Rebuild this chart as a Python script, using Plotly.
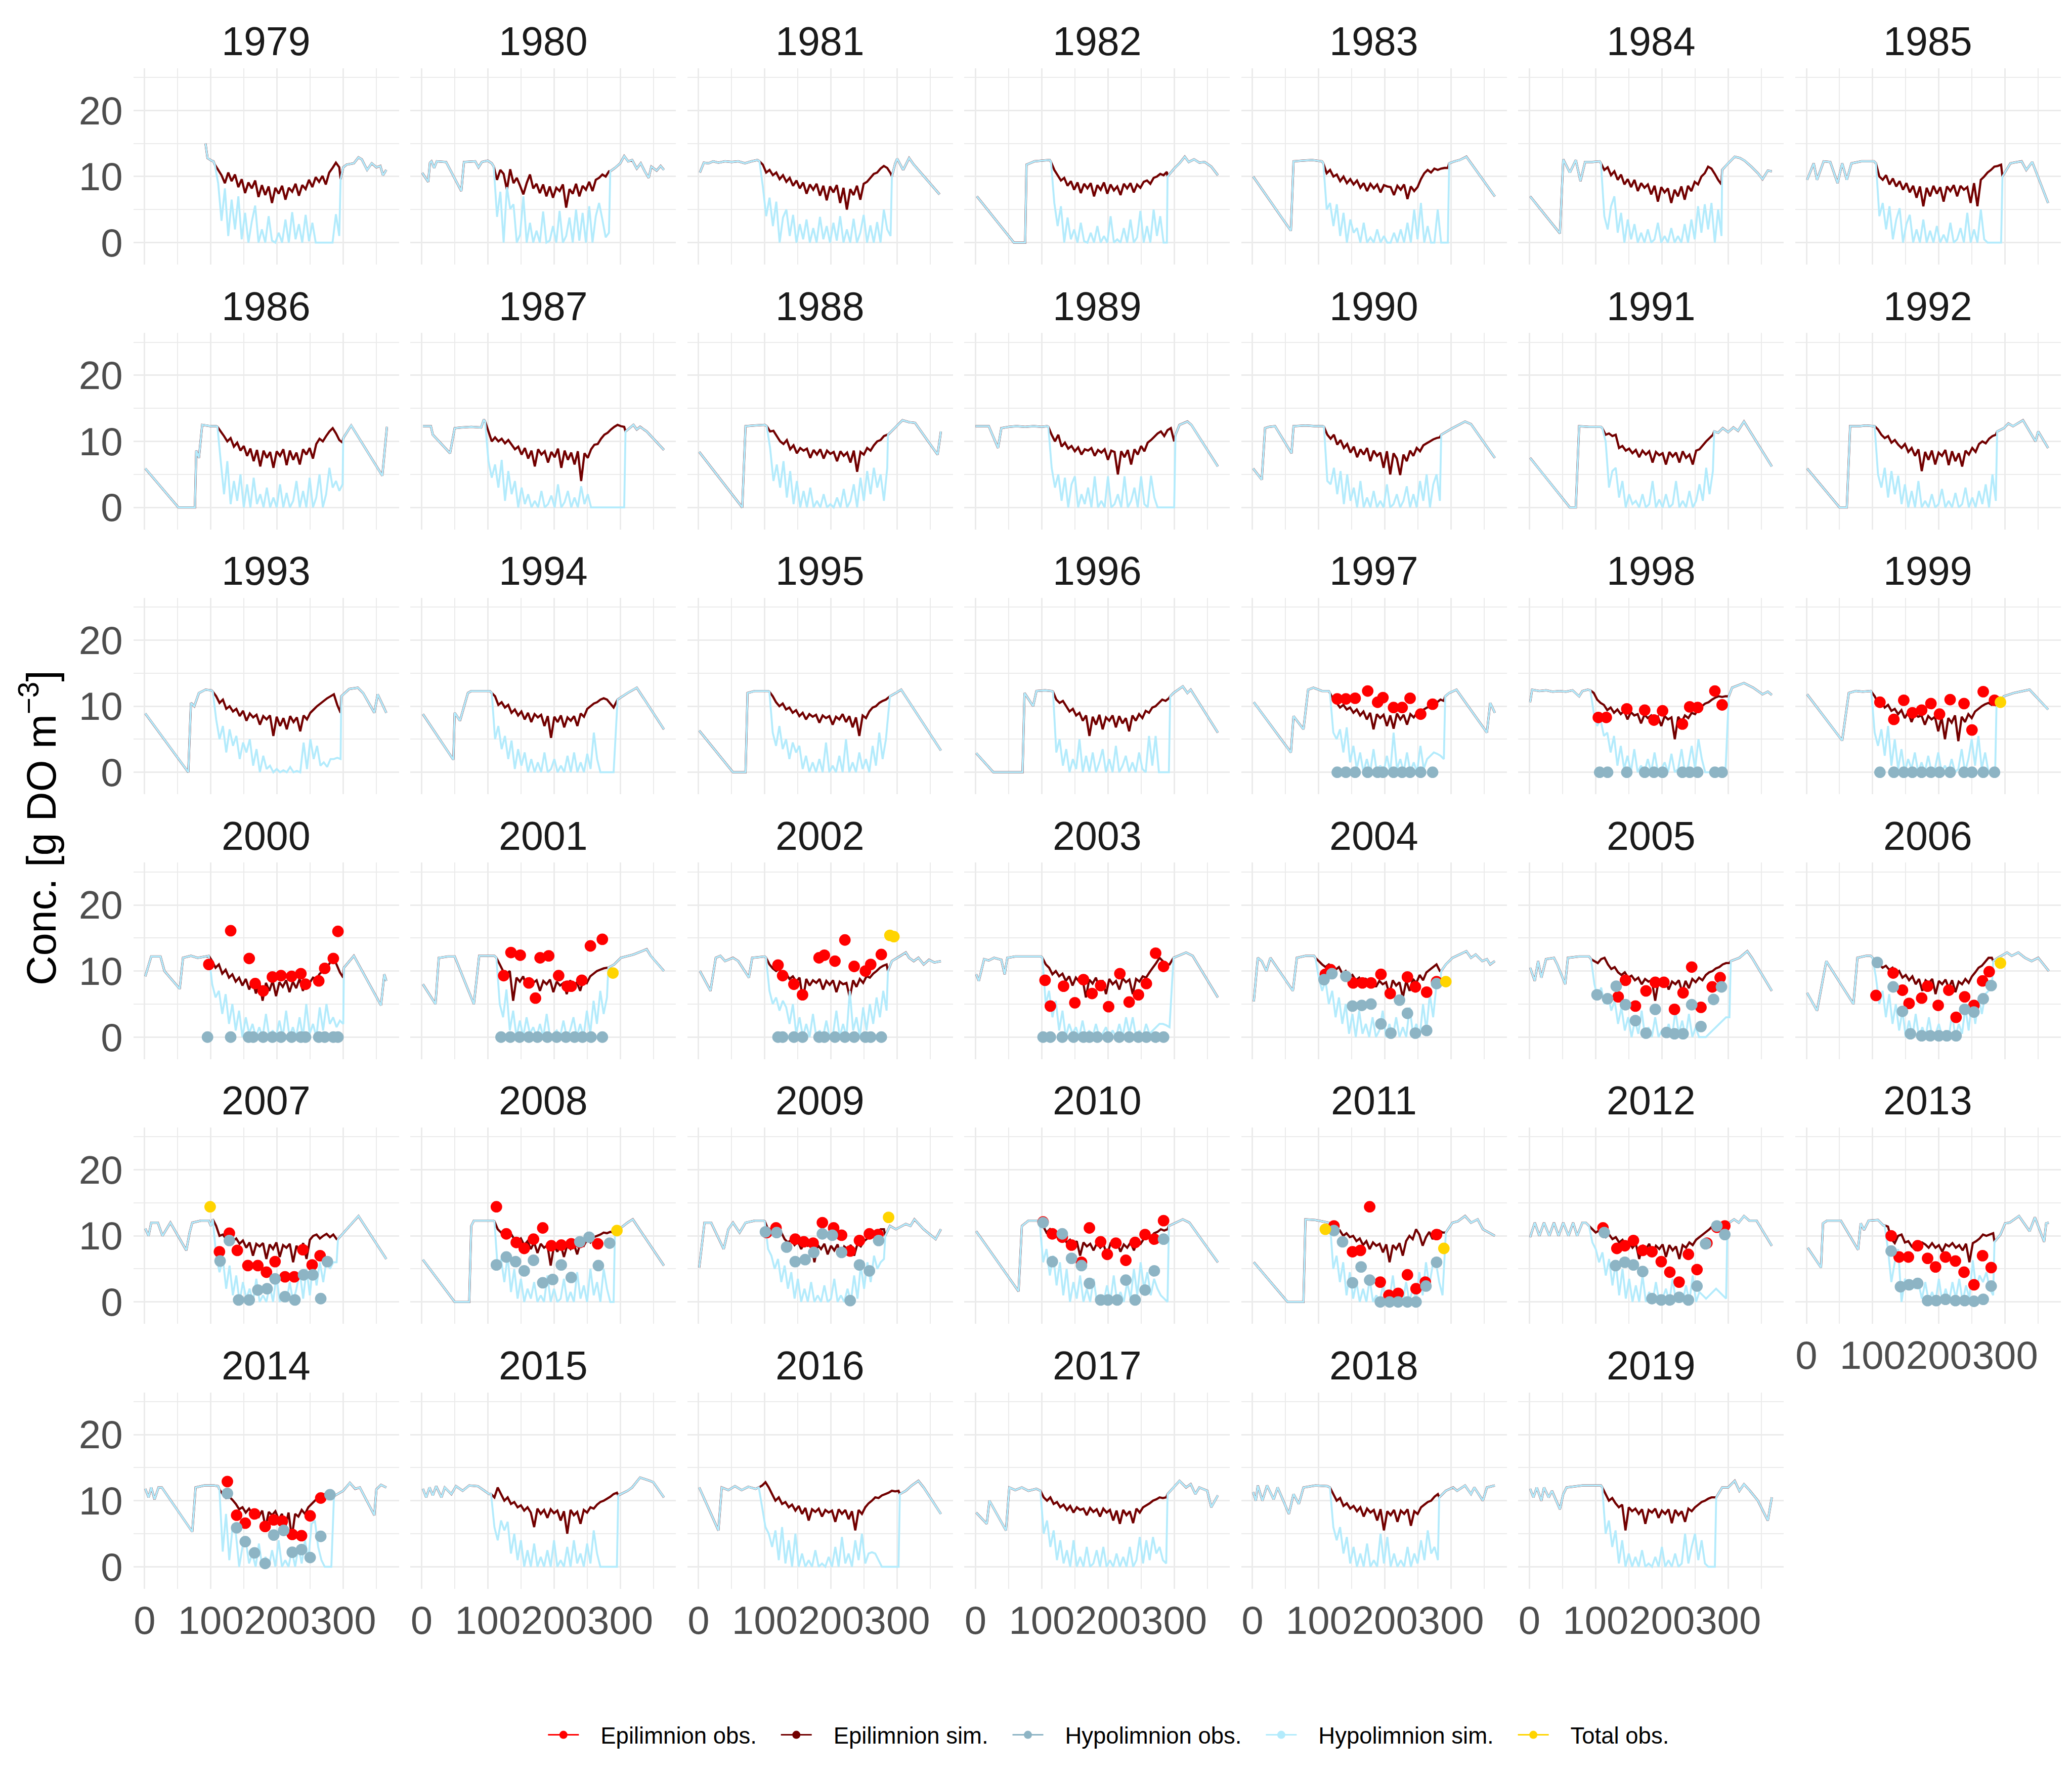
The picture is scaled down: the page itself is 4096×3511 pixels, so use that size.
import plotly.graph_objects as go

YEARS = list(range(1979, 2020))

# ---------------- simulated concentrations ----------------
# mixed-period knots (day of year, conc) shared by both layers, before stratification
PRE = {
    1979: [(92, 15.0), (95, 12.8), (101, 12.4), (104, 12.3)],
    1980: [(1, 10.55), (10, 9.2), (12.6, 12.07), (15, 12.3), (19, 11.3), (23, 12.3), (37, 12.2), (60, 7.8), (64, 12.2), (81, 12.3), (86, 11.4), (91, 12.2), (100, 12.4), (106, 12.0)],
    1981: [(2, 10.6), (8, 12.1), (15, 12.0), (22, 12.3), (30, 12.1), (40, 12.3), (50, 12.2), (60, 12.3), (70, 12.0), (80, 12.3), (89, 12.5)],
    1982: [(2, 7.0), (58, 0.0), (75, 0.0), (77, 11.8), (89, 12.3), (100, 12.4), (112, 12.5)],
    1983: [(1, 10.0), (58, 1.8), (62, 12.3), (75, 12.4), (90, 12.5), (105, 12.3)],
    1984: [(1, 7.0), (46, 1.4), (51, 12.6), (61, 10.6), (70, 12.5), (77, 9.3), (84, 12.2), (95, 12.2), (106, 12.3)],
    1985: [(1, 9.5), (11, 12.0), (16, 9.5), (26, 12.3), (36, 12.2), (47, 9.0), (54, 12.0), (61, 9.5), (68, 12.0), (83, 12.3), (102, 12.3)],
    1986: [(1, 5.9), (51, 0.0), (76, 0.0), (78, 8.6), (82, 7.5), (87, 12.5), (100, 12.3), (108, 12.3)],
    1987: [(2, 12.3), (14, 12.3), (17, 11.0), (43, 8.2), (50, 12.0), (60, 12.1), (75, 12.2), (90, 12.1), (94, 13.3)],
    1988: [(1, 8.4), (66, 0.0), (71, 12.3), (85, 12.4), (100, 12.5)],
    1989: [(0, 12.3), (20, 12.3), (34, 9.0), (39, 12.0), (50, 12.2), (62, 12.3), (75, 12.2), (88, 12.3), (100, 12.2), (108, 12.3)],
    1990: [(1, 5.9), (14, 4.2), (19, 12.0), (25, 12.2), (34, 12.3), (59, 8.2), (62, 12.3), (80, 12.4), (95, 12.3), (106, 12.3)],
    1991: [(1, 7.5), (61, 0.0), (70, 0.0), (75, 12.3), (90, 12.2), (108, 12.2)],
    1992: [(1, 5.9), (50, 0.0), (61, 0.0), (66, 12.3), (80, 12.3), (90, 12.4), (102, 12.3)],
    1993: [(1, 8.9), (66, 0.0), (70, 10.5), (75, 10.0), (82, 12.0), (92, 12.5), (101, 12.4)],
    1994: [(2, 8.8), (48, 1.9), (50, 9.0), (58, 7.8), (70, 12.0), (75, 12.3), (90, 12.3), (103, 12.3)],
    1995: [(1, 6.3), (52, 0.0), (71, 0.0), (74, 12.0), (85, 12.3), (105, 12.3)],
    1996: [(1, 2.9), (27, 0.0), (71, 0.0), (74, 12.0), (87, 10.0), (92, 12.3), (105, 12.4), (115, 12.3)],
    1997: [(2, 10.6), (58, 3.0), (62, 8.5), (77, 6.5), (84, 12.5), (92, 12.8), (105, 12.3), (115, 12.3)],
    1998: [(1, 10.6), (4, 12.5), (15, 12.3), (25, 12.4), (35, 12.2), (45, 12.3), (55, 12.2), (65, 12.4), (75, 11.5), (80, 12.3), (88, 12.5)],
    1999: [(1, 11.8), (54, 4.8), (64, 12.0), (75, 12.3), (85, 12.2), (97, 12.3)],
    2000: [(1, 9.2), (10, 12.2), (24, 12.2), (30, 10.0), (53, 7.3), (58, 12.0), (70, 12.3), (80, 12.0), (92, 12.2)],
    2001: [(2, 8.0), (21, 5.0), (26, 12.0), (40, 12.2), (50, 12.2), (79, 5.0), (87, 12.3), (100, 12.3), (110, 12.3)],
    2002: [(2, 10.0), (18, 7.0), (26, 12.0), (33, 12.3), (40, 11.5), (52, 12.0), (60, 11.5), (76, 9.0), (81, 12.0), (100, 12.2)],
    2003: [(1, 9.5), (5, 8.5), (13, 11.8), (20, 11.6), (28, 12.0), (39, 11.7), (44, 9.5), (48, 12.0), (60, 12.2), (80, 12.2), (99, 12.2)],
    2004: [(2, 5.4), (8, 12.0), (14, 11.5), (21, 10.0), (27, 12.0), (61, 7.0), (67, 12.0), (80, 12.3), (93, 12.3)],
    2005: [(1, 10.5), (8, 8.5), (13, 11.5), (18, 9.0), (25, 11.8), (37, 12.0), (42, 11.0), (54, 8.0), (58, 12.0), (75, 12.2), (90, 12.2)],
    2006: [(1, 6.7), (16, 4.0), (30, 11.5), (71, 5.0), (77, 12.0), (90, 12.3), (97, 12.3)],
    2007: [(1, 11.1), (6, 10.0), (10, 12.0), (20, 12.0), (27, 10.0), (39, 12.0), (63, 7.8), (68, 10.5), (72, 12.0), (85, 12.3), (97, 12.3), (100, 11.5)],
    2008: [(2, 6.4), (50, 0.0), (72, 0.0), (75, 11.5), (79, 12.3), (95, 12.3), (108, 12.3)],
    2009: [(1, 5.2), (9, 12.0), (19, 12.0), (38, 8.0), (45, 11.0), (52, 12.0), (62, 10.5), (71, 12.0), (85, 12.3), (98, 12.3)],
    2010: [(1, 10.7), (65, 1.6), (70, 11.5), (80, 12.3), (95, 12.3)],
    2011: [(2, 6.0), (53, 0.0), (77, 0.0), (80, 12.5), (95, 12.4), (105, 12.2), (115, 12.0)],
    2012: [(1, 9.8), (8, 12.0), (15, 10.0), (22, 12.0), (30, 10.0), (37, 12.0), (44, 10.0), (51, 12.0), (59, 10.0), (66, 12.0), (72, 10.0), (80, 12.0), (85, 12.0)],
    2013: [(2, 8.2), (22, 5.2), (25, 11.9), (31, 12.3), (52, 12.3), (78, 7.9), (82, 11.9), (87, 10.9), (94, 12.3), (108, 12.4), (116, 11.6)],
    2014: [(1, 11.8), (6, 10.5), (10, 12.0), (15, 10.2), (21, 12.0), (26, 12.0), (72, 5.3), (77, 12.0), (90, 12.3), (105, 12.3), (111, 12.2)],
    2015: [(2, 11.8), (7, 10.5), (12, 12.0), (17, 10.8), (22, 12.2), (30, 10.5), (35, 12.0), (45, 11.0), (52, 12.2), (62, 11.5), (72, 12.3), (85, 12.2), (95, 11.5), (102, 11.0)],
    2016: [(1, 12.0), (30, 5.5), (35, 12.0), (45, 11.6), (55, 12.2), (65, 11.6), (75, 12.1), (86, 11.8)],
    2017: [(1, 8.2), (17, 6.5), (21, 10.0), (46, 5.5), (51, 12.0), (60, 11.6), (70, 12.0), (80, 11.5), (92, 11.8)],
    2018: [(1, 11.3), (5, 10.0), (8, 12.3), (15, 10.0), (22, 12.3), (32, 10.2), (38, 12.0), (55, 8.0), (62, 11.0), (70, 9.5), (77, 12.0), (95, 12.3), (113, 12.2)],
    2019: [(1, 11.8), (6, 10.5), (11, 12.0), (18, 10.0), (22, 12.0), (29, 10.5), (34, 11.5), (46, 8.7), (51, 11.0), (56, 12.0), (80, 12.3), (108, 12.3)],
}

# stratified season: first and last day; summer values are evenly spaced over it
SEASON = {
    1979: (106, 294), 1980: (109, 283), 1981: (92, 290), 1982: (114, 289), 1983: (107, 295),
    1984: (108, 290), 1985: (105, 294), 1986: (110, 299), 1987: (96, 306), 1988: (103, 285),
    1989: (110, 300), 1990: (108, 283), 1991: (110, 277), 1992: (103, 286), 1993: (103, 296),
    1994: (106, 290), 1995: (107, 283), 1996: (117, 292), 1997: (117, 289), 1998: (92, 296),
    1999: (98, 285), 2000: (97, 300), 2001: (113, 280), 2002: (102, 284), 2003: (101, 293),
    2004: (95, 283), 2005: (93, 302), 2006: (100, 280), 2007: (103, 290), 2008: (110, 290),
    2009: (100, 280), 2010: (97, 290), 2011: (117, 287), 2012: (90, 297), 2013: (118, 282),
    2014: (113, 282), 2015: (105, 295), 2016: (91, 302), 2017: (98, 288), 2018: (117, 280),
    2019: (110, 280),
}

EPI_SIM = {
    1979: [11.8, 11.0, 10.2, 9.0, 10.6, 9.3, 10.3, 8.4, 9.6, 7.5, 9.1, 8.2, 9.4, 6.9, 8.7, 7.2, 8.5, 6.0, 8.3, 7.4, 8.6, 6.5, 8.3, 7.7, 8.9, 7.1, 8.7, 8.1, 9.5, 8.4, 9.9, 9.2, 10.1, 8.8, 10.6, 11.3, 12.1, 11.4],
    1980: [11.5, 9.5, 11.0, 10.4, 8.0, 11.1, 9.0, 9.8, 8.6, 7.3, 9.0, 10.3, 8.2, 8.9, 7.5, 8.8, 7.0, 8.5, 6.8, 8.3, 7.8, 8.8, 5.3, 8.1, 7.4, 8.9, 7.0, 8.6, 8.0, 9.2, 7.8, 9.5, 9.8, 10.3, 10.0, 10.8],
    1981: [12.3, 11.8, 10.6, 11.0, 10.2, 10.6, 9.6, 10.2, 9.2, 9.8, 8.6, 9.4, 8.2, 9.1, 7.4, 8.8, 8.0, 8.9, 7.1, 8.6, 6.4, 8.5, 7.6, 8.7, 6.0, 8.3, 5.0, 8.1, 7.2, 8.6, 6.5, 8.9, 9.2, 9.8, 10.4, 10.6, 11.2, 11.6, 11.3, 10.5],
    1982: [12.2, 11.0, 10.2, 9.4, 9.8, 8.6, 9.3, 8.0, 9.1, 7.5, 8.9, 8.2, 9.0, 7.0, 8.7, 8.0, 9.1, 7.4, 8.8, 7.9, 8.5, 7.2, 8.9, 8.2, 9.0, 7.6, 8.8, 8.3, 9.2, 9.4, 8.9, 9.8, 10.0, 10.4, 10.2, 10.7],
    1983: [12.0, 10.5, 11.0, 10.0, 10.3, 9.3, 10.0, 9.0, 9.6, 8.8, 9.4, 8.3, 9.0, 7.8, 8.9, 8.2, 8.8, 7.6, 8.7, 8.5, 8.4, 7.2, 8.6, 8.0, 8.8, 6.6, 8.5, 7.8, 8.4, 9.6, 10.5, 11.0, 10.6, 11.2, 11.0, 11.2, 11.3, 11.3],
    1984: [12.0, 11.0, 11.4, 10.2, 10.8, 9.5, 10.3, 8.8, 9.6, 8.4, 9.5, 7.8, 9.0, 8.3, 8.8, 7.3, 8.6, 6.2, 8.4, 7.6, 8.2, 6.0, 8.0, 7.0, 8.5, 6.5, 8.6, 7.8, 9.2, 8.8, 10.0, 10.5, 11.5, 11.2, 10.4, 9.5, 8.8],
    1985: [12.0, 10.0, 9.5, 10.2, 8.8, 9.7, 8.5, 9.3, 8.0, 9.0, 7.6, 8.6, 6.8, 8.5, 5.5, 8.3, 7.0, 8.6, 7.4, 8.4, 6.2, 8.5, 7.8, 8.7, 7.0, 8.6, 8.0, 8.4, 6.0, 9.0, 5.5, 9.5, 10.0, 10.6, 11.0, 11.5, 11.6, 11.8],
    1986: [12.2, 11.5, 10.8, 10.0, 10.5, 9.2, 9.8, 8.6, 9.3, 7.8, 8.9, 7.0, 8.7, 6.2, 8.6, 7.5, 8.4, 6.0, 8.5, 7.8, 8.8, 6.4, 8.6, 7.2, 8.3, 6.5, 8.8, 8.0, 9.0, 7.4, 9.6, 10.4, 10.0, 10.8, 11.5, 12.0, 11.2, 10.2, 9.8],
    1987: [13.0, 11.5, 10.0, 10.6, 10.0, 10.4, 9.7, 10.2, 9.5, 8.8, 9.2, 8.0, 9.0, 7.4, 8.6, 6.2, 8.8, 8.0, 8.5, 6.8, 8.4, 7.6, 8.9, 6.0, 8.6, 7.2, 8.3, 6.5, 8.5, 4.0, 8.2, 7.5, 8.8, 9.5, 9.6, 10.4, 11.0, 11.3, 11.8, 12.2, 12.5, 12.3, 12.2],
    1988: [12.3, 11.5, 11.6, 10.8, 10.0, 9.6, 10.2, 8.8, 9.4, 8.2, 9.0, 8.6, 8.9, 7.5, 8.7, 8.0, 8.8, 7.4, 8.6, 8.1, 8.4, 7.0, 8.5, 7.8, 8.3, 6.8, 8.6, 5.4, 8.4, 8.0, 9.0, 8.6, 9.4, 10.0, 10.2, 10.8, 11.0],
    1989: [12.2, 11.0, 10.0, 11.0, 9.2, 9.8, 8.9, 9.3, 8.5, 9.1, 8.0, 8.8, 8.6, 9.0, 7.8, 8.7, 8.3, 8.8, 7.2, 8.6, 8.4, 5.0, 8.5, 7.6, 8.7, 6.5, 8.8, 8.0, 9.3, 8.5, 9.8, 10.2, 10.7, 11.2, 11.5, 10.8, 11.7, 12.0, 10.0],
    1990: [12.2, 11.0, 10.4, 11.0, 9.5, 10.2, 9.0, 9.6, 8.3, 9.2, 7.6, 8.8, 8.0, 9.0, 7.0, 8.6, 7.8, 8.3, 6.0, 8.5, 5.0, 8.2, 7.4, 4.9, 8.0, 7.0, 8.6, 7.8, 9.0, 8.5, 9.4, 9.7, 10.0, 10.3, 10.5, 10.6],
    1991: [12.0, 11.0, 11.2, 10.8, 11.0, 9.0, 9.3, 8.6, 8.9, 8.2, 8.7, 7.6, 8.6, 8.0, 8.5, 6.8, 8.4, 7.9, 8.2, 6.5, 8.4, 7.7, 8.3, 6.8, 8.5, 7.5, 8.0, 6.5, 8.6, 8.8, 9.4, 10.0, 10.5, 11.0],
    1992: [12.3, 11.8, 11.0, 10.5, 10.8, 9.8, 10.2, 9.5, 9.0, 9.6, 8.4, 9.0, 7.8, 8.8, 5.5, 8.4, 7.2, 8.6, 6.5, 8.3, 7.8, 8.7, 6.4, 8.5, 7.0, 8.2, 6.2, 8.6, 8.0, 9.0, 8.4, 9.6, 10.0, 9.7, 10.4, 10.8, 11.0],
    1993: [12.2, 11.5, 10.5, 11.0, 9.6, 10.0, 9.2, 9.6, 8.5, 9.3, 7.8, 8.9, 8.3, 8.7, 7.2, 8.5, 8.0, 8.6, 5.5, 8.4, 7.0, 8.2, 6.5, 8.5, 7.6, 8.3, 6.2, 8.6, 8.0, 9.0, 9.5, 10.0, 10.4, 10.8, 11.2, 11.5, 11.8, 10.2, 9.0],
    1994: [12.0, 11.5, 10.2, 10.6, 9.8, 10.2, 9.0, 9.5, 8.6, 9.2, 8.0, 9.0, 7.6, 8.8, 8.3, 8.7, 7.0, 8.5, 5.2, 8.4, 7.6, 8.6, 6.8, 8.3, 7.8, 8.5, 7.0, 8.9, 8.4, 9.6, 10.0, 10.4, 10.6, 11.0, 11.2, 11.0, 10.4, 9.8],
    1995: [12.2, 11.5, 10.6, 10.0, 10.4, 9.5, 9.8, 9.0, 9.4, 8.5, 9.0, 8.0, 8.8, 8.4, 8.7, 7.5, 8.6, 8.2, 8.5, 7.2, 8.4, 8.0, 8.8, 7.6, 8.5, 6.8, 8.3, 5.5, 8.6, 8.2, 9.2, 9.8, 10.0, 10.5, 10.8, 11.0],
    1996: [12.2, 11.0, 10.5, 10.8, 10.0, 9.2, 9.6, 8.6, 9.0, 7.8, 8.6, 5.5, 8.4, 7.2, 8.7, 6.5, 8.3, 7.8, 8.6, 6.8, 8.5, 7.4, 8.2, 6.2, 8.6, 7.8, 8.8, 8.2, 9.3, 9.0, 9.8, 10.0, 10.5, 11.0, 10.8, 11.2],
    1997: [12.0, 11.0, 10.5, 9.8, 10.2, 9.5, 9.8, 9.0, 9.5, 8.6, 9.2, 8.0, 9.0, 6.5, 8.8, 8.2, 8.7, 7.0, 8.6, 6.6, 8.9, 8.0, 8.7, 7.2, 8.8, 8.3, 9.0, 8.6, 9.5, 9.8, 10.0, 10.3, 10.6, 11.0, 10.8],
    1998: [12.4, 12.0, 11.0, 10.5, 10.2, 9.4, 9.8, 9.0, 9.5, 8.8, 9.3, 8.0, 9.1, 8.6, 8.8, 7.4, 8.7, 8.2, 8.6, 7.8, 8.4, 7.0, 8.5, 8.0, 8.3, 5.0, 8.4, 7.6, 8.6, 8.2, 9.0, 8.8, 9.6, 10.0, 10.4, 10.6, 11.0, 11.3, 11.5, 11.4, 11.5],
    1999: [12.2, 11.5, 10.5, 10.8, 9.8, 10.2, 9.3, 9.6, 8.8, 9.4, 8.2, 9.1, 7.6, 8.8, 8.4, 8.6, 7.2, 8.5, 8.0, 8.4, 6.2, 8.3, 5.0, 8.2, 7.5, 8.6, 4.7, 8.4, 7.6, 8.8, 8.2, 9.2, 9.6, 10.0, 10.3, 10.5, 10.2, 10.5],
    2000: [12.3, 11.5, 10.5, 11.0, 9.6, 10.2, 9.0, 9.5, 8.4, 9.0, 7.8, 8.8, 7.2, 8.6, 6.6, 8.4, 5.5, 8.2, 7.0, 8.5, 6.2, 8.3, 7.6, 8.6, 6.8, 8.4, 7.4, 8.8, 7.0, 8.6, 8.2, 9.0, 8.8, 9.6, 10.0, 10.5, 11.2, 12.0, 11.0, 9.8, 9.0],
    2001: [12.0, 11.0, 10.0, 9.5, 10.0, 5.5, 9.0, 8.4, 9.2, 7.6, 8.8, 8.2, 8.6, 7.0, 8.5, 8.0, 8.7, 6.8, 8.4, 7.8, 8.2, 6.5, 8.6, 7.6, 8.3, 7.0, 8.8, 8.2, 9.2, 9.6, 10.0, 10.2, 10.4, 10.5],
    2002: [12.0, 11.0, 10.4, 10.0, 10.3, 9.2, 9.6, 8.8, 9.2, 8.4, 9.0, 5.6, 8.8, 7.8, 8.6, 8.2, 8.8, 7.2, 8.5, 7.9, 8.6, 6.8, 8.4, 8.0, 8.2, 6.0, 8.6, 7.6, 8.8, 8.2, 9.2, 9.0, 9.6, 10.0, 10.5, 10.8, 11.0],
    2003: [12.0, 11.0, 10.5, 9.5, 10.0, 9.2, 9.6, 8.5, 9.2, 7.8, 9.0, 8.4, 8.8, 6.0, 8.7, 8.1, 9.0, 7.4, 8.6, 6.5, 8.8, 8.0, 8.5, 7.2, 8.9, 8.3, 8.7, 6.5, 8.8, 8.4, 9.2, 9.0, 9.8, 10.5, 11.2, 12.0, 11.5, 11.0, 11.0],
    2004: [12.0, 11.5, 11.0, 10.6, 11.0, 10.5, 10.2, 10.6, 9.6, 10.0, 9.0, 9.4, 8.6, 9.0, 8.0, 8.8, 8.4, 8.6, 7.6, 8.5, 8.0, 8.3, 6.5, 8.6, 7.8, 8.3, 6.0, 8.5, 7.0, 8.8, 8.2, 9.4, 8.6, 9.8, 10.2, 10.6, 11.0, 10.0],
    2005: [11.8, 11.5, 11.2, 11.8, 12.0, 11.0, 10.3, 10.6, 9.8, 9.4, 9.8, 9.0, 9.3, 8.6, 9.0, 8.0, 8.8, 8.4, 8.6, 5.5, 8.5, 7.8, 8.7, 7.2, 8.4, 8.0, 8.6, 6.8, 8.5, 7.4, 8.8, 8.3, 9.0, 8.6, 9.4, 9.8, 10.0, 10.4, 10.6, 11.0, 11.2, 11.2],
    2006: [12.0, 11.5, 11.0, 10.5, 10.8, 10.2, 10.5, 9.6, 10.0, 9.0, 9.4, 8.6, 9.2, 8.0, 8.8, 7.0, 8.6, 8.2, 8.8, 6.5, 8.5, 8.0, 8.7, 7.4, 8.6, 6.8, 8.4, 8.0, 8.8, 8.2, 9.2, 9.8, 10.5, 10.8, 11.4, 12.0, 12.0],
    2007: [12.5, 11.5, 10.0, 10.2, 9.5, 9.8, 9.2, 9.6, 8.8, 9.3, 8.2, 9.0, 7.0, 8.8, 8.4, 8.9, 6.5, 8.7, 8.0, 9.0, 6.8, 8.6, 8.2, 8.8, 6.0, 8.5, 7.6, 8.9, 6.5, 9.4, 10.0, 10.2, 9.6, 10.0, 10.3, 9.8, 10.2, 9.5],
    2008: [12.2, 11.0, 10.5, 10.8, 10.0, 10.3, 9.5, 9.0, 9.6, 8.6, 9.2, 8.0, 9.0, 7.4, 8.8, 8.2, 8.6, 5.5, 8.5, 7.6, 8.7, 6.8, 8.6, 8.0, 8.8, 7.2, 9.0, 8.5, 9.4, 9.0, 9.8, 10.0, 10.2, 10.5, 10.4, 10.6, 10.5],
    2009: [12.2, 11.0, 10.5, 10.8, 10.2, 10.5, 9.5, 9.0, 9.4, 8.6, 9.2, 8.0, 9.0, 8.5, 8.8, 6.0, 8.6, 8.0, 8.8, 7.2, 8.5, 7.8, 8.7, 6.8, 8.4, 8.0, 8.6, 7.0, 8.8, 8.4, 9.2, 9.6, 10.0, 10.2, 10.6, 11.0, 11.0],
    2010: [12.0, 11.5, 10.5, 11.0, 10.0, 10.4, 9.5, 9.8, 9.0, 9.4, 8.6, 9.2, 7.0, 9.0, 8.4, 8.8, 7.8, 8.9, 8.2, 8.7, 7.0, 8.8, 8.4, 9.0, 7.6, 8.7, 8.2, 9.0, 7.8, 9.2, 8.8, 9.6, 10.0, 9.8, 10.4, 10.6, 11.0, 10.8, 11.0],
    2011: [12.0, 11.0, 10.5, 10.8, 10.0, 10.4, 9.8, 10.0, 9.2, 9.6, 8.6, 9.2, 8.0, 9.0, 8.5, 8.8, 7.5, 8.7, 6.0, 8.6, 8.0, 8.9, 7.0, 9.2, 10.0, 9.5, 11.0, 10.2, 8.5, 9.8, 10.6, 9.5, 10.4, 10.8, 10.5],
    2012: [11.5, 11.0, 10.5, 10.8, 10.4, 9.8, 10.2, 9.5, 9.8, 9.0, 9.4, 8.5, 9.0, 8.2, 8.8, 6.5, 8.6, 8.0, 8.8, 7.2, 8.5, 8.0, 8.7, 6.8, 8.6, 7.8, 8.4, 6.5, 8.6, 8.2, 9.0, 8.6, 9.4, 9.8, 10.2, 10.6, 11.0, 11.5, 12.0, 11.8, 11.5, 11.6],
    2013: [11.6, 11.4, 9.5, 8.9, 10.0, 10.2, 9.0, 9.2, 8.4, 7.9, 8.8, 9.0, 8.7, 8.2, 8.9, 8.2, 8.6, 7.6, 8.7, 8.4, 8.9, 8.2, 8.6, 7.8, 8.8, 6.0, 8.9, 9.2, 9.6, 10.2, 10.0, 10.2, 10.4],
    2014: [11.7, 11.0, 10.4, 10.6, 10.1, 9.5, 8.7, 9.0, 8.2, 8.8, 8.0, 8.4, 7.6, 8.5, 6.0, 8.3, 7.8, 8.4, 7.2, 8.0, 6.0, 8.2, 4.5, 8.0, 7.6, 8.6, 8.0, 9.0, 9.5, 10.0, 10.4, 10.8, 11.0, 11.2, 11.0],
    2015: [11.0, 10.5, 12.0, 11.0, 10.0, 10.5, 9.5, 9.8, 9.0, 9.3, 8.5, 9.0, 8.2, 6.0, 8.8, 8.0, 8.6, 7.4, 8.7, 8.1, 8.5, 7.0, 8.4, 5.0, 8.6, 7.8, 8.3, 6.5, 8.6, 8.2, 9.0, 8.8, 9.4, 9.8, 10.0, 10.3, 10.6, 11.0, 11.2],
    2016: [12.0, 12.3, 12.8, 12.0, 11.0, 10.0, 10.5, 9.5, 9.8, 9.0, 9.4, 8.5, 9.2, 8.0, 8.9, 7.0, 8.7, 8.3, 8.8, 7.6, 8.6, 8.2, 8.5, 6.8, 8.7, 8.0, 8.6, 7.2, 8.4, 5.5, 8.6, 8.0, 9.0, 9.6, 10.0, 10.5, 10.4, 10.8, 11.0, 11.2, 11.5, 11.4, 11.5],
    2017: [11.5, 10.5, 10.0, 10.5, 9.5, 9.8, 9.0, 9.4, 8.6, 9.2, 8.2, 9.0, 8.6, 8.8, 7.8, 8.9, 8.3, 8.7, 7.6, 8.8, 8.2, 8.6, 7.0, 8.5, 6.5, 8.6, 7.8, 8.4, 6.6, 8.8, 8.2, 9.0, 9.3, 9.6, 10.0, 10.2, 10.5, 10.4, 10.5],
    2018: [12.0, 11.0, 10.0, 10.4, 9.2, 9.6, 8.8, 9.2, 8.4, 9.0, 7.6, 8.8, 8.2, 8.6, 7.0, 8.7, 5.5, 8.4, 7.8, 8.6, 6.8, 8.5, 8.0, 8.7, 6.2, 8.4, 8.0, 9.0, 9.4, 9.8, 10.0, 10.6, 11.0],
    2019: [12.0, 11.0, 10.0, 10.4, 9.6, 9.0, 9.4, 5.5, 9.0, 8.4, 8.8, 8.0, 8.7, 6.5, 8.6, 8.2, 8.8, 7.4, 8.5, 8.0, 8.7, 6.6, 8.6, 7.8, 8.4, 6.8, 8.8, 8.4, 9.0, 9.4, 9.8, 10.0, 10.3, 10.5, 10.5],
}

HYPO_SIM = {
    1979: [11.8, 9.0, 3.3, 8.2, 1.0, 6.5, 2.0, 7.0, 0.5, 4.5, 0.0, 3.2, 5.6, 0.0, 2.0, 0.0, 4.0, 0.3, 0.0, 1.5, 0.0, 3.5, 0.0, 4.6, 0.5, 2.8, 0.0, 4.2, 0.2, 3.0, 0.0, 0.0, 0.0, 0.0, 0.0, 0.0, 4.3, 1.0],
    1980: [11.5, 3.9, 7.7, 0.0, 8.4, 5.1, 5.8, 0.0, 1.2, 7.0, 0.0, 3.0, 0.0, 1.8, 0.0, 4.7, 0.0, 0.3, 2.5, 0.0, 4.8, 0.0, 1.0, 3.8, 0.0, 5.0, 0.3, 4.5, 0.0, 5.5, 0.0, 4.0, 6.0, 3.5, 0.8, 1.5],
    1981: [12.3, 8.5, 4.0, 6.8, 2.5, 6.2, 0.0, 3.8, 5.0, 1.0, 4.2, 0.0, 2.8, 0.5, 3.5, 0.0, 2.2, 0.0, 3.9, 0.5, 2.5, 0.0, 3.0, 0.3, 4.0, 0.0, 2.0, 0.0, 3.6, 0.0, 1.5, 4.2, 0.0, 2.6, 0.0, 3.1, 0.0, 5.0, 2.0, 1.0],
    1982: [12.2, 6.0, 2.5, 5.5, 0.0, 3.8, 0.5, 2.0, 0.0, 3.0, 0.2, 0.0, 1.5, 0.0, 2.5, 0.0, 1.0, 0.0, 4.0, 0.0, 0.5, 0.0, 2.2, 0.0, 3.5, 0.0, 0.8, 4.8, 0.0, 2.5, 0.0, 5.0, 1.0, 4.0, 0.0, 0.0],
    1983: [12.0, 5.0, 6.0, 2.5, 5.8, 1.0, 4.5, 0.0, 3.5, 1.5, 2.2, 0.0, 3.0, 0.0, 0.8, 0.0, 2.0, 0.0, 1.0, 0.0, 0.0, 1.5, 0.0, 2.0, 0.0, 3.0, 0.0, 5.0, 0.5, 6.0, 0.0, 2.5, 0.0, 0.0, 5.0, 0.0, 0.0, 0.0],
    1984: [12.0, 4.0, 2.0, 5.5, 7.0, 1.5, 4.5, 0.0, 3.5, 0.5, 2.8, 0.0, 1.5, 0.0, 2.0, 0.0, 0.5, 3.0, 0.0, 1.0, 0.0, 2.2, 0.0, 1.0, 0.0, 2.8, 0.0, 3.5, 0.5, 5.5, 1.5, 5.8, 2.0, 6.0, 0.0, 5.0, 1.0],
    1985: [12.0, 4.0, 6.0, 2.0, 5.5, 0.5, 3.5, 5.2, 0.0, 2.8, 4.2, 0.0, 2.0, 0.0, 3.5, 0.0, 1.8, 0.0, 2.5, 0.0, 1.2, 0.0, 3.0, 0.0, 0.5, 2.2, 0.0, 4.5, 0.0, 2.0, 0.0, 5.0, 0.5, 0.0, 0.0, 0.0, 0.0, 0.0],
    1986: [12.2, 7.0, 2.0, 7.0, 0.5, 4.0, 1.0, 5.0, 0.0, 3.5, 0.0, 4.5, 0.5, 2.0, 0.0, 3.0, 0.0, 1.5, 0.0, 3.5, 0.0, 2.2, 0.0, 1.0, 4.0, 0.0, 2.5, 0.0, 4.5, 0.0, 1.5, 5.0, 0.0, 2.0, 6.0, 3.0, 4.0, 2.5, 3.5],
    1987: [13.0, 7.0, 4.5, 6.5, 3.0, 7.2, 1.0, 5.5, 2.0, 4.0, 0.0, 3.0, 0.5, 2.0, 0.0, 1.0, 0.0, 2.5, 0.0, 0.5, 1.8, 0.0, 3.5, 0.0, 0.8, 2.5, 0.0, 1.5, 0.0, 3.2, 0.5, 2.0, 0.0, 0.0, 0.0, 0.0, 0.0, 0.0, 0.0, 0.0, 0.0, 0.0, 0.0],
    1988: [12.3, 9.0, 4.0, 6.5, 3.0, 7.0, 1.5, 5.5, 0.5, 4.0, 0.0, 2.5, 0.0, 3.0, 0.0, 1.0, 0.0, 2.0, 0.0, 0.5, 0.0, 1.5, 0.0, 2.8, 0.0, 1.0, 3.5, 0.0, 4.5, 1.0, 5.5, 2.0, 6.0, 3.0, 5.0, 1.0, 6.0],
    1989: [12.2, 6.0, 3.0, 5.0, 1.0, 4.5, 0.0, 3.5, 4.7, 0.0, 2.0, 0.5, 3.0, 0.0, 4.7, 0.0, 1.0, 0.0, 4.7, 0.0, 0.5, 2.0, 0.0, 4.7, 0.0, 1.0, 3.0, 0.0, 4.7, 0.5, 0.0, 4.8, 1.5, 0.0, 0.0, 0.0, 0.0, 0.0, 0.0],
    1990: [12.2, 4.0, 3.5, 6.0, 2.0, 5.5, 0.5, 5.0, 1.0, 3.0, 0.0, 4.0, 0.0, 1.5, 0.0, 2.5, 0.0, 1.0, 0.0, 3.5, 0.0, 0.5, 2.0, 0.0, 1.0, 3.2, 0.0, 2.0, 0.0, 4.0, 1.0, 5.0, 0.0, 3.5, 5.0, 1.0],
    1991: [12.0, 10.0, 3.0, 5.5, 6.0, 1.5, 4.0, 0.0, 2.0, 0.5, 1.0, 0.0, 2.0, 0.0, 0.5, 4.0, 0.0, 1.2, 0.0, 2.0, 0.0, 0.5, 4.0, 0.0, 1.0, 0.0, 2.5, 0.0, 1.0, 3.5, 1.0, 6.0, 2.0, 5.5],
    1992: [12.3, 5.0, 3.0, 6.0, 1.5, 5.5, 2.0, 4.8, 0.5, 3.5, 0.0, 2.5, 0.0, 4.0, 0.0, 1.0, 0.0, 2.0, 0.0, 0.5, 2.8, 0.0, 1.0, 0.0, 2.2, 0.0, 0.5, 3.0, 0.0, 1.5, 0.0, 2.5, 0.5, 3.5, 0.0, 5.0, 1.0],
    1993: [12.2, 8.0, 5.0, 7.0, 3.0, 6.5, 4.0, 5.5, 2.0, 4.5, 3.0, 5.0, 1.0, 3.5, 0.0, 2.5, 0.5, 1.0, 0.0, 0.5, 0.0, 0.3, 0.0, 0.8, 0.0, 0.2, 0.0, 4.5, 0.5, 5.0, 2.0, 4.0, 1.0, 1.5, 0.8, 2.0, 2.0, 2.2, 2.0],
    1994: [12.0, 5.0, 7.0, 3.5, 5.5, 2.0, 4.8, 0.5, 3.5, 1.0, 3.0, 0.0, 2.0, 0.0, 1.5, 0.0, 3.0, 0.0, 0.5, 2.0, 0.0, 1.0, 0.0, 2.5, 0.0, 3.0, 0.0, 1.5, 0.0, 2.8, 0.5, 6.0, 2.0, 0.0, 0.0, 0.0, 0.0, 0.0],
    1995: [12.2, 6.0, 4.0, 7.0, 3.5, 5.0, 2.0, 4.5, 3.0, 4.0, 0.5, 2.5, 0.0, 1.5, 0.0, 2.0, 0.0, 4.5, 0.0, 1.0, 0.0, 2.5, 0.0, 5.0, 0.0, 1.5, 0.0, 3.0, 0.5, 2.0, 0.0, 4.0, 1.0, 6.0, 2.0, 5.0],
    1996: [12.2, 3.0, 5.0, 1.0, 3.5, 0.0, 2.0, 0.5, 5.0, 0.0, 2.5, 0.0, 3.0, 0.0, 1.5, 3.5, 0.0, 2.0, 0.0, 4.0, 0.0, 1.0, 2.5, 0.0, 1.5, 0.0, 3.0, 0.5, 0.0, 5.5, 1.0, 5.5, 0.0, 0.0, 0.0, 0.0],
    1997: [12.0, 6.0, 5.0, 6.5, 3.0, 6.8, 1.5, 4.0, 0.5, 3.0, 0.0, 2.0, 0.0, 3.5, 0.0, 1.0, 0.0, 2.5, 0.0, 6.0, 0.5, 2.0, 0.0, 3.0, 0.0, 1.5, 0.0, 4.0, 0.5, 2.0, 2.5, 3.0, 2.8, 2.5, 2.0],
    1998: [12.4, 9.0, 7.0, 8.0, 5.5, 6.0, 3.0, 5.5, 1.0, 4.0, 0.5, 2.5, 0.0, 3.5, 0.0, 1.0, 0.0, 2.0, 0.0, 3.0, 0.0, 0.5, 1.5, 0.0, 2.8, 0.0, 0.5, 3.5, 0.0, 1.0, 4.0, 0.5, 5.0, 2.0, 0.0, 0.0, 0.0, 0.0, 0.0, 0.0, 0.0],
    1999: [12.2, 6.0, 4.0, 6.5, 2.5, 7.0, 1.0, 5.0, 0.5, 3.5, 0.0, 2.0, 0.5, 3.0, 0.0, 1.5, 0.0, 2.5, 0.0, 0.5, 3.0, 0.0, 1.0, 0.0, 2.0, 0.0, 0.5, 3.5, 0.0, 2.0, 5.0, 1.0, 5.5, 0.5, 3.0, 0.0, 0.0, 0.0],
    2000: [12.3, 8.0, 6.0, 7.0, 3.5, 6.5, 2.0, 5.0, 1.0, 4.0, 0.0, 3.0, 0.5, 2.0, 0.0, 1.5, 0.0, 3.5, 0.0, 1.0, 0.0, 2.5, 0.0, 4.0, 0.0, 1.5, 0.0, 3.0, 0.0, 5.0, 0.5, 2.0, 0.0, 4.5, 1.0, 5.0, 2.0, 3.0, 1.5, 2.5, 2.0],
    2001: [12.0, 5.0, 3.0, 7.2, 1.0, 4.0, 0.0, 2.5, 0.0, 3.0, 0.5, 1.5, 0.0, 2.0, 0.0, 3.5, 0.0, 0.5, 1.0, 0.0, 2.5, 0.0, 1.0, 3.0, 0.0, 2.0, 0.0, 4.0, 0.5, 5.5, 2.0, 7.0, 3.5, 6.0],
    2002: [12.0, 7.0, 5.0, 6.0, 4.0, 5.5, 4.5, 2.0, 5.0, 0.5, 3.0, 0.0, 2.0, 0.0, 3.5, 0.0, 1.0, 0.0, 2.5, 0.0, 0.5, 4.0, 0.0, 2.0, 0.0, 7.0, 1.0, 3.0, 0.0, 4.5, 1.0, 5.0, 2.0, 6.0, 3.0, 7.0, 4.0],
    2003: [12.0, 5.0, 7.0, 3.0, 5.5, 1.0, 4.0, 0.0, 2.0, 0.5, 1.5, 0.0, 2.5, 0.0, 1.0, 0.0, 2.0, 0.0, 0.5, 1.5, 0.0, 1.0, 0.0, 2.0, 0.0, 3.0, 0.5, 3.0, 0.0, 1.0, 0.0, 2.0, 0.5, 1.0, 1.5, 2.0, 2.0, 1.8, 1.5],
    2004: [12.0, 9.0, 7.0, 8.5, 5.0, 7.0, 3.0, 6.0, 2.0, 5.0, 0.5, 3.5, 0.0, 4.0, 0.5, 2.0, 0.0, 3.0, 0.0, 1.0, 4.0, 0.0, 2.0, 0.0, 3.0, 0.0, 1.5, 0.0, 4.5, 0.5, 2.0, 0.0, 5.0, 1.0, 6.5, 3.0, 8.0, 7.5],
    2005: [11.8, 8.0, 6.0, 7.5, 5.0, 6.5, 4.0, 5.5, 2.0, 4.5, 1.0, 3.0, 0.0, 2.5, 0.5, 4.0, 0.0, 1.5, 0.0, 3.0, 0.0, 1.0, 0.0, 2.0, 0.0, 4.0, 0.5, 2.5, 0.0, 3.5, 0.0, 1.5, 0.0, 0.0, 0.0, 0.5, 1.0, 1.5, 2.0, 2.5, 3.0, 3.0],
    2006: [12.0, 9.0, 5.0, 7.0, 3.0, 6.5, 2.0, 5.0, 1.0, 4.0, 0.0, 2.5, 0.0, 3.5, 0.0, 1.5, 0.0, 3.0, 0.0, 0.5, 2.0, 0.0, 1.0, 0.0, 3.5, 0.0, 2.0, 0.5, 4.5, 1.0, 5.5, 2.0, 6.0, 3.5, 6.5, 7.0, 7.5],
    2007: [12.5, 7.0, 4.5, 6.5, 2.0, 5.5, 1.0, 4.0, 0.0, 3.0, 0.5, 2.0, 0.0, 3.5, 0.0, 1.0, 0.0, 2.5, 0.0, 4.0, 0.0, 1.5, 0.0, 3.0, 0.0, 2.0, 4.5, 0.5, 5.0, 1.0, 6.0, 2.5, 6.0, 3.0, 6.5, 5.0, 6.0, 6.0],
    2008: [12.2, 5.0, 6.5, 3.0, 7.0, 1.5, 5.0, 0.5, 3.5, 0.0, 2.0, 0.5, 3.0, 0.0, 1.0, 0.0, 4.0, 0.0, 2.0, 0.0, 0.5, 3.5, 0.0, 1.5, 0.0, 4.5, 0.5, 2.5, 0.0, 5.0, 1.0, 3.0, 0.0, 5.0, 2.0, 0.0, 0.0],
    2009: [12.2, 8.0, 7.0, 5.0, 6.5, 3.0, 5.5, 2.0, 4.5, 0.5, 3.5, 0.0, 2.0, 0.0, 3.0, 0.0, 1.0, 0.0, 2.5, 0.0, 0.5, 3.5, 0.0, 1.0, 0.0, 2.0, 0.0, 4.0, 0.5, 5.5, 2.0, 6.0, 3.0, 7.0, 5.0, 6.0, 6.5],
    2010: [12.0, 6.0, 8.0, 4.0, 7.0, 2.5, 6.0, 1.0, 5.0, 0.0, 3.0, 0.5, 4.0, 0.0, 2.0, 0.0, 3.5, 0.0, 1.0, 0.0, 2.5, 0.0, 4.0, 0.0, 1.5, 0.0, 3.0, 0.5, 5.0, 1.0, 6.0, 2.0, 4.5, 1.0, 3.5, 2.0, 1.0, 0.5, 0.0],
    2011: [12.0, 5.0, 7.0, 3.0, 6.0, 1.0, 4.5, 0.5, 3.0, 0.0, 2.0, 0.0, 3.5, 0.0, 1.0, 0.0, 2.5, 0.0, 0.5, 4.0, 0.0, 1.5, 0.0, 3.0, 0.0, 2.0, 0.5, 4.5, 1.0, 6.0, 2.5, 5.5, 6.0, 3.0, 1.0],
    2012: [11.5, 9.0, 8.0, 6.0, 7.5, 4.0, 6.5, 2.5, 6.0, 1.0, 5.0, 0.5, 3.5, 0.0, 2.5, 0.0, 4.0, 0.0, 1.5, 0.0, 3.0, 0.0, 0.5, 2.0, 0.0, 3.5, 0.0, 1.0, 0.0, 2.5, 0.0, 4.0, 0.0, 1.5, 1.0, 0.5, 1.0, 1.5, 2.0, 1.5, 1.0, 0.5],
    2013: [11.6, 8.0, 3.0, 6.0, 8.0, 0.0, 3.5, 2.5, 3.0, 2.0, 2.8, 0.5, 3.0, 0.0, 1.5, 0.0, 3.5, 0.0, 2.0, 0.0, 3.0, 0.5, 3.5, 0.0, 2.5, 0.5, 6.3, 2.0, 4.0, 3.0, 4.5, 2.0, 1.0],
    2014: [11.7, 2.3, 8.0, 1.0, 6.0, 5.0, 0.0, 3.0, 4.0, 0.5, 2.0, 0.0, 3.5, 0.0, 1.5, 0.0, 2.5, 0.0, 4.0, 0.0, 1.0, 0.0, 2.5, 0.0, 3.0, 0.5, 4.0, 1.0, 6.5, 7.0, 3.0, 1.0, 0.0, 0.0, 0.0],
    2015: [11.0, 6.0, 4.0, 7.0, 5.5, 6.8, 2.0, 5.0, 1.0, 4.0, 0.0, 2.5, 0.0, 3.5, 0.0, 1.5, 0.0, 2.5, 0.0, 4.0, 0.0, 1.0, 0.0, 3.0, 0.0, 4.0, 0.5, 2.0, 0.0, 3.5, 0.5, 5.5, 2.0, 0.0, 0.0, 0.0, 0.0, 0.0, 0.0],
    2016: [12.0, 9.0, 6.0, 5.0, 3.0, 5.5, 1.0, 6.0, 0.5, 4.0, 0.0, 5.0, 0.0, 2.0, 0.0, 1.0, 0.0, 2.5, 0.0, 0.5, 0.0, 1.5, 0.0, 3.0, 0.0, 4.5, 0.5, 2.0, 0.0, 4.0, 1.0, 5.0, 0.5, 2.0, 2.2, 2.0, 1.0, 0.0, 0.0, 0.0, 0.0, 0.0, 0.0],
    2017: [11.5, 5.0, 7.0, 3.0, 5.5, 1.0, 4.0, 0.5, 2.5, 0.0, 4.0, 0.0, 1.5, 0.0, 3.0, 0.0, 0.5, 2.5, 0.0, 3.0, 0.0, 1.0, 0.0, 2.0, 0.0, 1.5, 0.0, 3.0, 0.0, 1.0, 4.5, 0.5, 4.0, 1.0, 4.5, 2.0, 3.0, 1.0, 0.5],
    2018: [12.0, 6.0, 4.0, 6.0, 2.0, 4.5, 0.5, 3.0, 0.0, 2.0, 0.0, 3.5, 0.0, 1.0, 0.0, 5.0, 0.5, 4.5, 0.0, 2.0, 0.0, 1.0, 0.0, 3.0, 0.0, 2.0, 0.5, 4.0, 1.0, 5.5, 2.0, 3.0, 1.0],
    2019: [12.0, 5.0, 7.0, 3.0, 5.5, 0.5, 4.0, 0.0, 2.0, 0.0, 1.5, 0.0, 2.5, 0.0, 0.5, 0.0, 1.5, 0.0, 3.0, 0.0, 1.0, 0.0, 2.0, 0.0, 0.5, 5.0, 0.5, 3.0, 5.0, 1.0, 4.0, 0.5, 0.0, 0.0, 0.0],
}

# mixed-period knots after the autumn overturn
POST = {
    1979: [(296, 9.6), (300, 11.4), (305, 11.8), (316, 12.0), (323, 12.9), (328, 12.6), (336, 11.0), (343, 12.0), (350, 11.4), (356, 11.6), (360, 10.2), (365, 11.0)],
    1980: [(285, 10.8), (292, 11.3), (300, 12.0), (306, 13.1), (312, 12.3), (318, 12.5), (325, 11.2), (331, 12.0), (337, 10.8), (343, 9.8), (347, 11.5), (355, 10.9), (361, 11.6), (366, 11.0)],
    1981: [(292, 10.0), (297, 12.0), (300, 12.7), (309, 11.0), (318, 12.8), (325, 11.8), (364, 7.3)],
    1982: [(290, 10.0), (300, 11.2), (308, 12.0), (316, 13.0), (322, 12.2), (330, 12.6), (338, 12.1), (346, 12.2), (356, 11.5), (366, 10.2)],
    1983: [(297, 12.0), (305, 12.3), (313, 12.5), (323, 13.0), (366, 7.0)],
    1984: [(291, 11.0), (300, 12.0), (310, 13.0), (318, 12.8), (325, 12.4), (335, 11.5), (345, 10.5), (352, 9.6), (360, 10.9), (366, 10.8)],
    1985: [(296, 10.0), (308, 12.0), (318, 12.2), (325, 12.3), (332, 11.0), (341, 12.2), (365, 6.0)],
    1986: [(300, 10.5), (312, 12.4), (359, 4.8), (366, 12.2)],
    1987: [(308, 11.5), (320, 12.5), (325, 11.8), (330, 12.2), (340, 11.5), (366, 8.7)],
    1988: [(286, 11.0), (296, 12.0), (308, 13.2), (318, 12.9), (327, 12.8), (361, 8.0), (366, 11.5)],
    1989: [(302, 11.0), (308, 12.5), (320, 13.0), (326, 12.5), (366, 6.2)],
    1990: [(285, 11.0), (302, 12.0), (321, 13.0), (330, 12.6), (366, 7.5)],
    1991: [(279, 11.5), (285, 11.3), (292, 12.0), (300, 11.4), (308, 12.1), (315, 11.6), (324, 13.0), (366, 6.2)],
    1992: [(288, 11.5), (298, 12.0), (305, 12.7), (312, 12.3), (327, 13.2), (346, 10.0), (350, 11.5), (365, 9.0)],
    1993: [(297, 11.5), (309, 12.6), (322, 12.8), (330, 12.0), (347, 9.0), (352, 11.8), (365, 9.0)],
    1994: [(296, 11.0), (311, 12.0), (325, 12.8), (366, 6.5)],
    1995: [(289, 11.5), (298, 12.0), (306, 12.5), (366, 3.3)],
    1996: [(294, 11.5), (299, 12.0), (313, 13.0), (320, 12.0), (325, 12.5), (366, 6.0)],
    1997: [(291, 11.5), (297, 12.0), (308, 12.5), (354, 6.0), (359, 10.5), (366, 9.0)],
    1998: [(301, 11.5), (306, 12.8), (324, 13.5), (338, 12.8), (352, 11.8), (360, 12.2), (366, 11.7)],
    1999: [(287, 10.0), (298, 11.5), (313, 12.0), (327, 12.3), (337, 12.5), (365, 9.5)],
    2000: [(301, 10.5), (316, 12.3), (357, 4.8), (362, 9.5), (365, 8.5)],
    2001: [(282, 10.5), (291, 11.0), (301, 12.0), (320, 12.5), (340, 13.3), (346, 12.3), (366, 10.0)],
    2002: [(286, 10.0), (292, 11.5), (313, 12.8), (318, 12.0), (325, 11.5), (332, 12.0), (340, 11.0), (348, 11.7), (356, 11.3), (366, 11.5)],
    2003: [(299, 12.0), (318, 12.8), (328, 12.3), (366, 6.0)],
    2004: [(285, 10.0), (292, 11.0), (302, 12.0), (323, 13.0), (330, 12.0), (337, 12.5), (347, 11.5), (354, 11.8), (359, 11.0), (366, 11.5)],
    2005: [(304, 11.5), (317, 12.0), (329, 13.0), (336, 12.0), (366, 7.0)],
    2006: [(282, 11.5), (289, 12.0), (303, 12.8), (310, 12.3), (320, 12.8), (330, 12.0), (340, 11.5), (350, 12.0), (366, 10.0)],
    2007: [(292, 9.5), (314, 12.0), (323, 13.0), (365, 6.5)],
    2008: [(292, 10.5), (311, 12.0), (319, 12.5), (366, 5.5)],
    2009: [(282, 10.0), (289, 11.5), (298, 11.0), (313, 11.8), (320, 11.5), (326, 12.5), (340, 11.0), (358, 9.5), (366, 11.0)],
    2010: [(292, 11.5), (313, 12.5), (323, 12.0), (366, 6.0)],
    2011: [(292, 10.5), (302, 12.0), (310, 12.2), (321, 13.0), (330, 12.0), (340, 12.5), (348, 11.0), (366, 10.0)],
    2012: [(299, 11.8), (309, 12.5), (316, 12.0), (324, 13.0), (332, 12.3), (343, 12.3), (366, 8.5)],
    2013: [(284, 9.1), (293, 10.2), (300, 11.9), (307, 12.0), (321, 13.0), (337, 10.7), (345, 12.8), (359, 9.1), (362, 11.9), (366, 12.0)],
    2014: [(286, 10.7), (300, 11.5), (310, 12.7), (318, 11.8), (325, 12.0), (347, 7.8), (350, 11.7), (357, 12.4), (365, 12.0)],
    2015: [(297, 10.8), (311, 11.5), (318, 12.0), (330, 13.5), (345, 13.0), (350, 12.8), (366, 10.5)],
    2016: [(304, 11.0), (313, 11.5), (322, 12.3), (332, 13.0), (340, 12.0), (366, 8.0)],
    2017: [(290, 11.0), (299, 12.0), (308, 13.0), (318, 12.0), (325, 12.5), (332, 11.0), (338, 12.0), (350, 11.5), (356, 9.0), (366, 10.8)],
    2018: [(282, 10.5), (292, 11.5), (303, 12.0), (309, 11.5), (321, 12.3), (330, 11.0), (335, 12.0), (348, 10.0), (354, 12.0), (366, 12.3)],
    2019: [(282, 10.5), (291, 12.0), (300, 12.0), (310, 13.0), (317, 11.5), (324, 12.5), (333, 11.5), (345, 10.0), (360, 7.0), (366, 10.5)],
}

# ---------------- observations (day of year, conc) ----------------
EPI_OBS = {
    1997: ([128, 141, 155, 174, 189, 197, 213, 226, 238, 254, 272], [11.1, 11.1, 11.2, 12.3, 10.6, 11.3, 9.8, 9.8, 11.2, 8.8, 10.3]),
    1998: ([104, 116, 147, 174, 188, 201, 231, 242, 254, 280, 291], [8.3, 8.3, 9.6, 9.4, 7.9, 9.3, 7.3, 9.9, 9.8, 12.3, 10.2]),
    1999: ([111, 132, 147, 160, 174, 188, 201, 217, 238, 250, 267, 284], [10.6, 8.0, 10.9, 9.0, 9.4, 10.4, 8.8, 11.0, 10.4, 6.4, 12.2, 10.9]),
    2000: ([97, 130, 158, 167, 179, 193, 206, 222, 236, 243, 263, 272, 285, 292], [11.0, 16.1, 11.9, 8.1, 7.0, 9.1, 9.3, 9.2, 9.6, 8.0, 8.5, 10.4, 11.9, 16.0]),
    2001: ([124, 135, 149, 162, 172, 179, 192, 207, 220, 226, 242, 255, 273], [9.3, 12.8, 12.4, 8.2, 5.9, 12.0, 12.3, 9.3, 7.7, 7.7, 8.6, 13.8, 14.8]),
    2002: ([120, 127, 144, 157, 182, 190, 206, 221, 235, 252, 260, 276], [10.9, 9.3, 8.0, 6.4, 12.0, 12.4, 11.5, 14.7, 10.7, 10.0, 11.0, 12.5]),
    2003: ([105, 113, 133, 150, 163, 176, 189, 201, 218, 232, 246, 258, 272, 284], [8.6, 4.7, 7.7, 5.2, 8.7, 6.6, 7.8, 4.6, 9.6, 5.3, 6.4, 8.1, 12.7, 10.7]),
    2004: ([110, 118, 152, 166, 179, 194, 208, 234, 246, 263, 278], [9.5, 10.2, 8.2, 8.2, 8.2, 9.5, 6.6, 9.1, 7.6, 6.8, 8.4]),
    2005: ([134, 145, 160, 176, 190, 203, 219, 232, 245, 259, 276, 288], [6.1, 8.6, 4.7, 7.0, 8.3, 8.3, 4.2, 6.7, 10.6, 4.5, 7.6, 9.0]),
    2006: ([105, 131, 145, 155, 174, 183, 199, 215, 226, 239, 253, 266, 276], [6.3, 9.7, 7.1, 5.1, 5.9, 7.7, 4.8, 7.1, 3.0, 6.1, 4.8, 8.5, 9.9]),
    2007: ([113, 128, 140, 156, 171, 184, 197, 212, 226, 239, 253, 265], [7.6, 10.4, 7.8, 5.5, 5.5, 4.5, 6.1, 3.8, 3.8, 7.9, 5.6, 7.0]),
    2008: ([113, 128, 143, 155, 169, 183, 196, 211, 226, 239, 266], [14.4, 10.3, 9.0, 8.1, 9.5, 11.2, 8.5, 8.6, 8.8, 9.0, 8.8]),
    2009: ([103, 117, 146, 159, 173, 187, 204, 216, 229, 243, 258, 271], [10.5, 11.2, 9.5, 9.1, 8.9, 12.0, 11.2, 10.1, 7.7, 9.3, 10.3, 10.2]),
    2010: ([102, 116, 131, 145, 160, 172, 189, 199, 212, 227, 241, 256, 270, 284], [12.1, 10.3, 9.8, 8.6, 6.0, 11.2, 9.1, 7.2, 8.9, 6.3, 9.0, 10.2, 9.5, 12.3]),
    2011: ([123, 151, 163, 177, 193, 206, 220, 234, 247, 261, 278], [11.5, 7.6, 7.8, 14.4, 3.0, 1.0, 1.3, 4.1, 2.0, 3.0, 10.2]),
    2012: ([111, 132, 144, 157, 171, 185, 199, 212, 226, 240, 253, 268, 283, 295], [11.2, 8.1, 8.5, 9.3, 7.8, 7.6, 6.1, 4.5, 3.0, 7.2, 4.9, 8.9, 11.3, 11.5]),
    2013: ([128, 140, 154, 168, 183, 195, 210, 225, 238, 253, 266, 279], [10.0, 6.8, 6.8, 8.5, 6.6, 5.3, 6.8, 6.2, 4.5, 2.6, 7.0, 5.2]),
    2014: ([125, 139, 152, 166, 182, 195, 208, 223, 237, 250, 266], [12.9, 7.8, 6.6, 8.0, 6.1, 7.1, 6.9, 4.9, 4.7, 7.7, 10.4]),
}

HYPO_OBS = {
    1997: ([128, 141, 155, 174, 189, 197, 213, 226, 238, 254, 272], [0, 0, 0, 0, 0, 0, 0, 0, 0, 0, 0]),
    1998: ([106, 118, 147, 174, 188, 201, 231, 242, 254, 280, 291], [0, 0, 0, 0, 0, 0, 0, 0, 0, 0, 0]),
    1999: ([111, 132, 147, 160, 174, 188, 201, 217, 238, 250, 267, 284], [0, 0, 0, 0, 0, 0, 0, 0, 0, 0, 0, 0]),
    2000: ([95, 130, 157, 164, 179, 193, 206, 222, 236, 243, 263, 272, 285, 292], [0, 0, 0, 0, 0, 0, 0, 0, 0, 0, 0, 0, 0, 0]),
    2001: ([120, 134, 148, 162, 175, 190, 204, 218, 231, 243, 256, 273], [0, 0, 0, 0, 0, 0, 0, 0, 0, 0, 0, 0]),
    2002: ([120, 127, 144, 157, 182, 190, 206, 221, 235, 252, 260, 276], [0, 0, 0, 0, 0, 0, 0, 0, 0, 0, 0, 0]),
    2003: ([102, 113, 131, 148, 163, 172, 184, 200, 217, 232, 246, 258, 272, 284], [0, 0, 0, 0, 0, 0, 0, 0, 0, 0, 0, 0, 0, 0]),
    2004: ([108, 120, 141, 151, 165, 179, 194, 209, 222, 234, 246, 263, 278], [8.7, 9.6, 9.2, 4.7, 4.8, 5.0, 2.0, 0.6, 5.6, 3.6, 0.6, 1.0, 8.1]),
    2005: ([102, 118, 131, 145, 160, 176, 190, 207, 219, 232, 245, 259, 278, 290], [6.4, 5.8, 7.7, 4.9, 2.5, 0.6, 4.2, 0.7, 0.5, 0.5, 4.9, 1.6, 5.7, 7.6]),
    2006: ([107, 131, 145, 157, 174, 187, 200, 212, 226, 239, 253, 267, 279], [11.3, 7.6, 3.9, 0.5, 0.2, 0.2, 0.2, 0.2, 0.2, 4.2, 3.8, 5.8, 7.8]),
    2007: ([114, 128, 142, 158, 171, 185, 197, 212, 227, 240, 254, 266, 276], [6.2, 9.3, 0.3, 0.3, 1.8, 2.0, 3.5, 0.8, 0.3, 4.1, 4.1, 0.5, 6.1]),
    2008: ([113, 128, 142, 155, 169, 183, 198, 211, 226, 239, 253, 267, 284], [5.6, 6.8, 6.1, 4.7, 6.3, 2.9, 3.4, 5.6, 3.7, 9.1, 9.8, 5.5, 8.9]),
    2009: ([101, 118, 133, 146, 161, 174, 187, 202, 216, 229, 243, 258, 272], [10.6, 10.5, 8.3, 6.1, 6.4, 7.5, 10.3, 10.1, 7.5, 0.2, 5.6, 4.7, 9.3]),
    2010: ([102, 116, 131, 145, 160, 172, 189, 200, 214, 227, 241, 256, 270, 284], [12.0, 6.1, 10.3, 6.6, 5.5, 2.8, 0.3, 0.3, 0.3, 3.3, 0.3, 1.8, 4.7, 9.5]),
    2011: ([123, 136, 151, 164, 177, 193, 207, 220, 234, 247, 262, 278], [10.8, 9.1, 2.9, 5.3, 3.3, 0.0, 0.0, 0.0, 0.0, 0.0, 2.4, 6.0]),
    2012: ([113, 130, 144, 157, 171, 185, 199, 212, 226, 240, 253, 266, 283, 295], [10.5, 5.5, 6.0, 5.6, 4.6, 0.5, 0.3, 0.3, 0.7, 0.3, 2.4, 8.8, 11.5, 10.2]),
    2013: ([128, 142, 155, 168, 183, 196, 210, 225, 239, 253, 267, 279], [7.7, 2.3, 2.6, 2.8, 0.2, 0.2, 0.4, 0.2, 0.2, 0.1, 0.4, 2.4]),
    2014: ([125, 139, 152, 166, 182, 195, 210, 223, 237, 250, 266, 280], [11.1, 5.9, 3.8, 2.1, 0.5, 4.8, 5.5, 2.2, 2.6, 1.4, 4.6, 10.9]),
}

TOTAL_OBS = {
    1999: ([293], [10.6]),
    2001: ([289], [9.7]),
    2002: ([289, 295], [15.4, 15.2]),
    2004: ([292], [8.4]),
    2006: ([293], [11.2]),
    2007: ([99], [14.4]),
    2008: ([295], [10.8]),
    2009: ([287], [12.8]),
    2011: ([110, 289], [11.0, 8.1]),
}

X_TICKS = [0, 100, 200, 300]
Y_TICKS = [0, 10, 20]

# ---------------- styling ----------------
C_EPI_OBS = "#FF0000"
C_EPI_SIM = "#720000"
C_HYP_OBS = "#8DB4C4"
C_HYP_SIM = "#B3EBFC"
C_TOT_OBS = "#FFD400"
GRID = "#EBEBEB"
FONT = "Liberation Sans, Arial, Helvetica, sans-serif"

S = 0.991
W, H = 4096, 3511
NCOL = 7
PANEL_L, PANEL_DX, PANEL_W = 266 * S, 552.5 * S, 530 * S
PANEL_T, PANEL_DY, PANEL_H = 136 * S, 528.3 * S, 392 * S
X_RANGE = [-17.0, 384.25]
Y_RANGE = [-3.34, 26.4]

fig = go.Figure()
layout = dict(
    width=W, height=H, margin=dict(l=0, r=0, t=0, b=0, autoexpand=False),
    paper_bgcolor="white", plot_bgcolor="white",
    font=dict(family=FONT, color="#000000"),
    showlegend=True,
)
annotations = []

n_years = len(YEARS)
bottom_idx = set()
for i in range(n_years):
    if i + NCOL >= n_years:
        bottom_idx.add(i)


def season_days(year, n):
    s, e = SEASON[year]
    if n == 1:
        return [s]
    return [s + (e - s) * k / (n - 1) for k in range(n)]


for i, year in enumerate(YEARS):
    r, c = divmod(i, NCOL)
    ax = "" if i == 0 else str(i + 1)
    left = PANEL_L + c * PANEL_DX
    top = PANEL_T + r * PANEL_DY
    xd = [left / W, (left + PANEL_W) / W]
    yd = [1 - (top + PANEL_H) / H, 1 - top / H]

    layout["xaxis" + ax] = dict(
        domain=xd, range=X_RANGE, anchor="y" + ax, automargin=False,
        tickmode="array", tickvals=X_TICKS, ticktext=[str(v) for v in X_TICKS], tickangle=0,
        showgrid=True, gridcolor=GRID, gridwidth=3.3,
        minor=dict(tickmode="array", tickvals=[50, 150, 250, 350], showgrid=True, gridcolor=GRID, gridwidth=1.6, ticks=""),
        zeroline=False, showline=False, ticks="",
        showticklabels=(i in bottom_idx),
        tickfont=dict(size=78, color="#4D4D4D", family=FONT),
        ticklabelstandoff=10,
    )
    layout["yaxis" + ax] = dict(
        domain=yd, range=Y_RANGE, anchor="x" + ax, automargin=False,
        tickmode="array", tickvals=Y_TICKS, ticktext=[str(v) for v in Y_TICKS],
        showgrid=True, gridcolor=GRID, gridwidth=3.3,
        minor=dict(tickmode="array", tickvals=[5, 15, 25], showgrid=True, gridcolor=GRID, gridwidth=1.6, ticks=""),
        zeroline=False, showline=False, ticks="",
        showticklabels=(c == 0),
        tickfont=dict(size=78, color="#4D4D4D", family=FONT),
        ticklabelstandoff=20,
    )
    annotations.append(dict(
        text=str(year), xref="paper", yref="paper",
        x=(left + PANEL_W / 2) / W, y=1 - (top - 53.5 * S) / H,
        xanchor="center", yanchor="middle", showarrow=False,
        font=dict(size=79, color="#1A1A1A", family=FONT),
    ))

    pre_d = [p[0] for p in PRE[year]]
    pre_v = [p[1] for p in PRE[year]]
    post_d = [p[0] for p in POST[year]]
    post_v = [p[1] for p in POST[year]]
    epi = EPI_SIM[year]
    hyp = HYPO_SIM[year]

    fig.add_trace(go.Scatter(
        x=pre_d + season_days(year, len(epi)) + post_d, y=pre_v + epi + post_v,
        mode="lines", line=dict(color=C_EPI_SIM, width=4.3, simplify=False),
        xaxis="x" + ax, yaxis="y" + ax, showlegend=False, hoverinfo="skip"))
    fig.add_trace(go.Scatter(
        x=pre_d + season_days(year, len(hyp)) + post_d, y=pre_v + hyp + post_v,
        mode="lines", line=dict(color=C_HYP_SIM, width=3.8, simplify=False),
        xaxis="x" + ax, yaxis="y" + ax, showlegend=False, hoverinfo="skip"))
    for obs, col in ((EPI_OBS, C_EPI_OBS), (HYPO_OBS, C_HYP_OBS), (TOTAL_OBS, C_TOT_OBS)):
        if year in obs:
            dd, vv = obs[year]
            fig.add_trace(go.Scatter(
                x=dd, y=vv, mode="markers",
                marker=dict(color=col, size=22.8, line=dict(width=0)),
                xaxis="x" + ax, yaxis="y" + ax, showlegend=False, hoverinfo="skip"))

# legend keys (line + point, as in the original key glyphs)
NB = "\u00a0"
LEGEND = [("Epilimnion obs.", C_EPI_OBS), ("Epilimnion sim.", C_EPI_SIM),
          ("Hypolimnion obs.", C_HYP_OBS), ("Hypolimnion sim.", C_HYP_SIM), ("Total obs.", C_TOT_OBS)]
for k, (name, col) in enumerate(LEGEND):
    fig.add_trace(go.Scatter(
        x=[None], y=[None], mode="lines+markers", name=NB * 3 + name + NB * 3,
        line=dict(color=col, width=3), marker=dict(color=col, size=20),
        xaxis="x", yaxis="y", showlegend=True, legendrank=k + 1))

annotations.append(dict(
    text="Conc. [g DO m<sup>\u22123</sup>]", xref="paper", yref="paper",
    x=76 / W, y=1 - 1637 / H, xanchor="center", yanchor="middle",
    textangle=-90, showarrow=False, font=dict(size=81, color="#000000", family=FONT),
))

layout["annotations"] = annotations
layout["legend"] = dict(
    orientation="h", x=(2188 * S + 42) / W, y=1 - 3430 / H, xanchor="center", yanchor="middle",
    font=dict(size=45.5, color="#000000", family=FONT), itemwidth=61,
    bgcolor="rgba(0,0,0,0)", traceorder="normal",
)
fig.update_layout(**layout)
fig.write_html("out.html")
